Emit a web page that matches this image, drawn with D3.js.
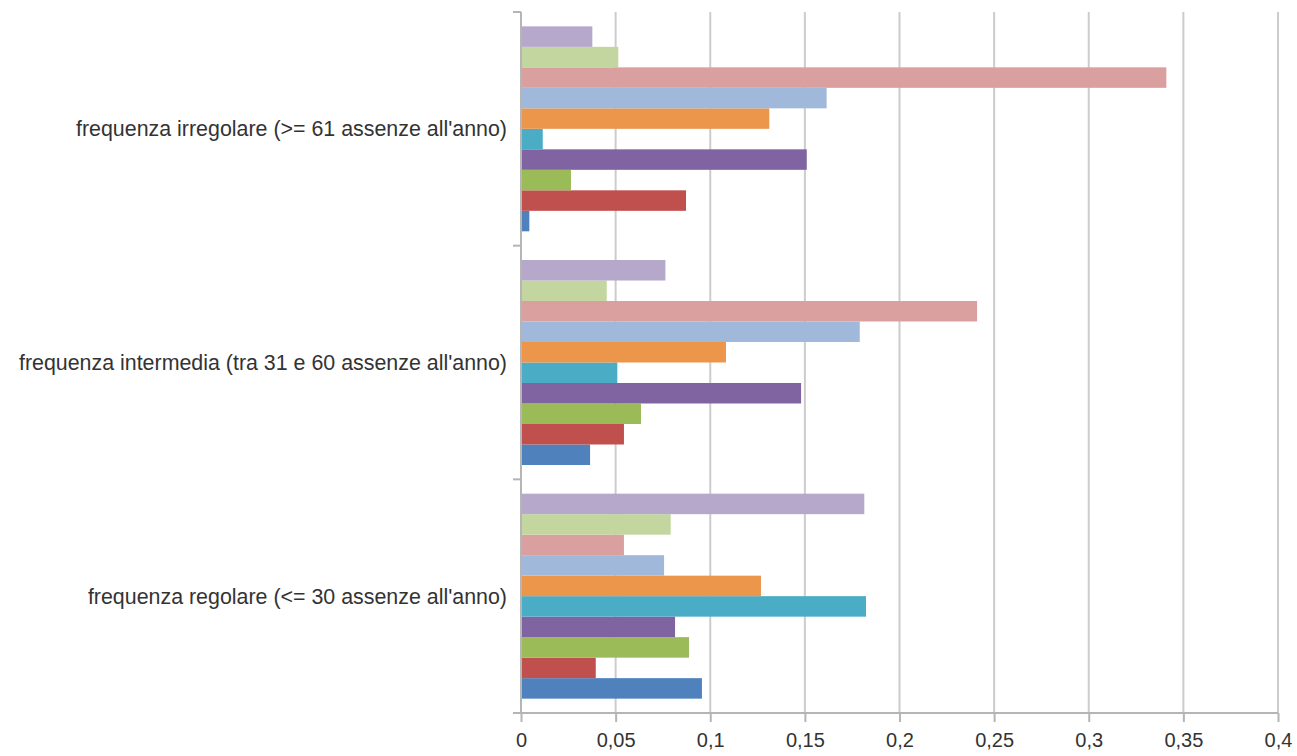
<!DOCTYPE html>
<html>
<head>
<meta charset="utf-8">
<script src="https://cdn.jsdelivr.net/npm/d3@7"></script>
<style>
  body { margin: 0; background: #fff; }
  text { font-family: "Liberation Sans", Arial, sans-serif; fill: #333; }
</style>
</head>
<body>
<div id="grafico"></div>
<script>
// categorie dall'alto in basso
var categorie = [
  "frequenza irregolare (>= 61 assenze all'anno)",
  "frequenza intermedia (tra 31 e 60 assenze all'anno)",
  "frequenza regolare (<= 30 assenze all'anno)"
];
// serie dal basso verso l'alto dentro ogni gruppo (come in Excel)
var serie = ["s1", "s2", "s3", "s4", "s5", "s6", "s7", "s8", "s9", "s10"];
var colori = ["#4f81bd", "#c0504d", "#9bbb59", "#8064a2", "#4bacc6",
              "#ec964b", "#a0b8da", "#d9a09f", "#c3d6a0", "#b5a8ca"];
var irregolare = [0.0044, 0.0872, 0.0264, 0.151, 0.0115, 0.1312, 0.1615, 0.341, 0.0514, 0.0377];
var intermedia = [0.0365, 0.0544, 0.0634, 0.148, 0.0509, 0.1083, 0.179, 0.241, 0.0453, 0.0763];
var regolare   = [0.0956, 0.0395, 0.0888, 0.0814, 0.1823, 0.1268, 0.0756, 0.0544, 0.0791, 0.1814];
var valori = [irregolare, intermedia, regolare];
var tickX = [0, 0.05, 0.1, 0.15, 0.2, 0.25, 0.3, 0.35, 0.4];

var larguraSVG = 1297, alturaSVG = 756;
var margin = {top: 12, right: 19, bottom: 43, left: 521};
var larguraVis = larguraSVG - margin.left - margin.right,
    alturaVis = alturaSVG - margin.top - margin.bottom;

var svg = d3.select("#grafico").append("svg")
    .attr("width", larguraSVG).attr("height", alturaSVG);
var g = svg.append("g")
    .attr("transform", "translate(" + margin.left + "," + margin.top + ")");

var x = d3.scaleLinear().domain([0, 0.4]).range([0, larguraVis]);
var y0 = d3.scaleBand().domain(categorie).range([0, alturaVis]);
var y1 = d3.scaleBand().domain(serie.slice().reverse())
    .range([0, y0.bandwidth()]).paddingOuter(0.7);

// griglia
g.selectAll(".grid").data(tickX.slice(1)).enter().append("line")
  .attr("x1", d => x(d)).attr("x2", d => x(d))
  .attr("y1", 0).attr("y2", alturaVis)
  .attr("stroke", "#cccccc").attr("stroke-width", 2);

// barre
var gruppi = g.selectAll(".gruppo").data(categorie).enter().append("g")
  .attr("transform", d => "translate(0," + y0(d) + ")");
gruppi.selectAll("rect")
  .data((d, i) => valori[i].map((v, j) => ({s: serie[j], v: v, c: colori[j]})))
  .enter().append("rect")
  .attr("x", 0)
  .attr("y", d => y1(d.s))
  .attr("width", d => x(d.v))
  .attr("height", y1.bandwidth())
  .attr("fill", d => d.c);

// asse x
var asseX = g.append("g")
  .attr("transform", "translate(0," + alturaVis + ")")
  .call(d3.axisBottom(x).tickValues(tickX).tickSize(9).tickPadding(11)
        .tickFormat(d => String(d).replace(".", ",")));
asseX.select(".domain").attr("stroke", "#b5b5b5").attr("stroke-width", 2)
  .attr("d", "M-8,0H" + larguraVis);
asseX.selectAll(".tick line").attr("stroke", "#b5b5b5").attr("stroke-width", 2);
asseX.selectAll("text").style("font-size", "20px").attr("fill", "#333");

// asse y
var confini = categorie.map(c => y0(c)).concat([alturaVis]);
g.append("line").attr("x1", 0).attr("x2", 0).attr("y1", 0).attr("y2", alturaVis)
  .attr("stroke", "#b5b5b5").attr("stroke-width", 2);
g.selectAll(".ytick").data(confini).enter().append("line")
  .attr("x1", -8).attr("x2", 0).attr("y1", d => d).attr("y2", d => d)
  .attr("stroke", "#b5b5b5").attr("stroke-width", 2);
g.selectAll(".ylab").data(categorie).enter().append("text")
  .attr("x", -14)
  .attr("y", d => y0(d) + y0.bandwidth() / 2)
  .attr("dy", "0.35em")
  .attr("text-anchor", "end")
  .style("font-size", "21.4px")
  .text(d => d);
</script>
</body>
</html>
